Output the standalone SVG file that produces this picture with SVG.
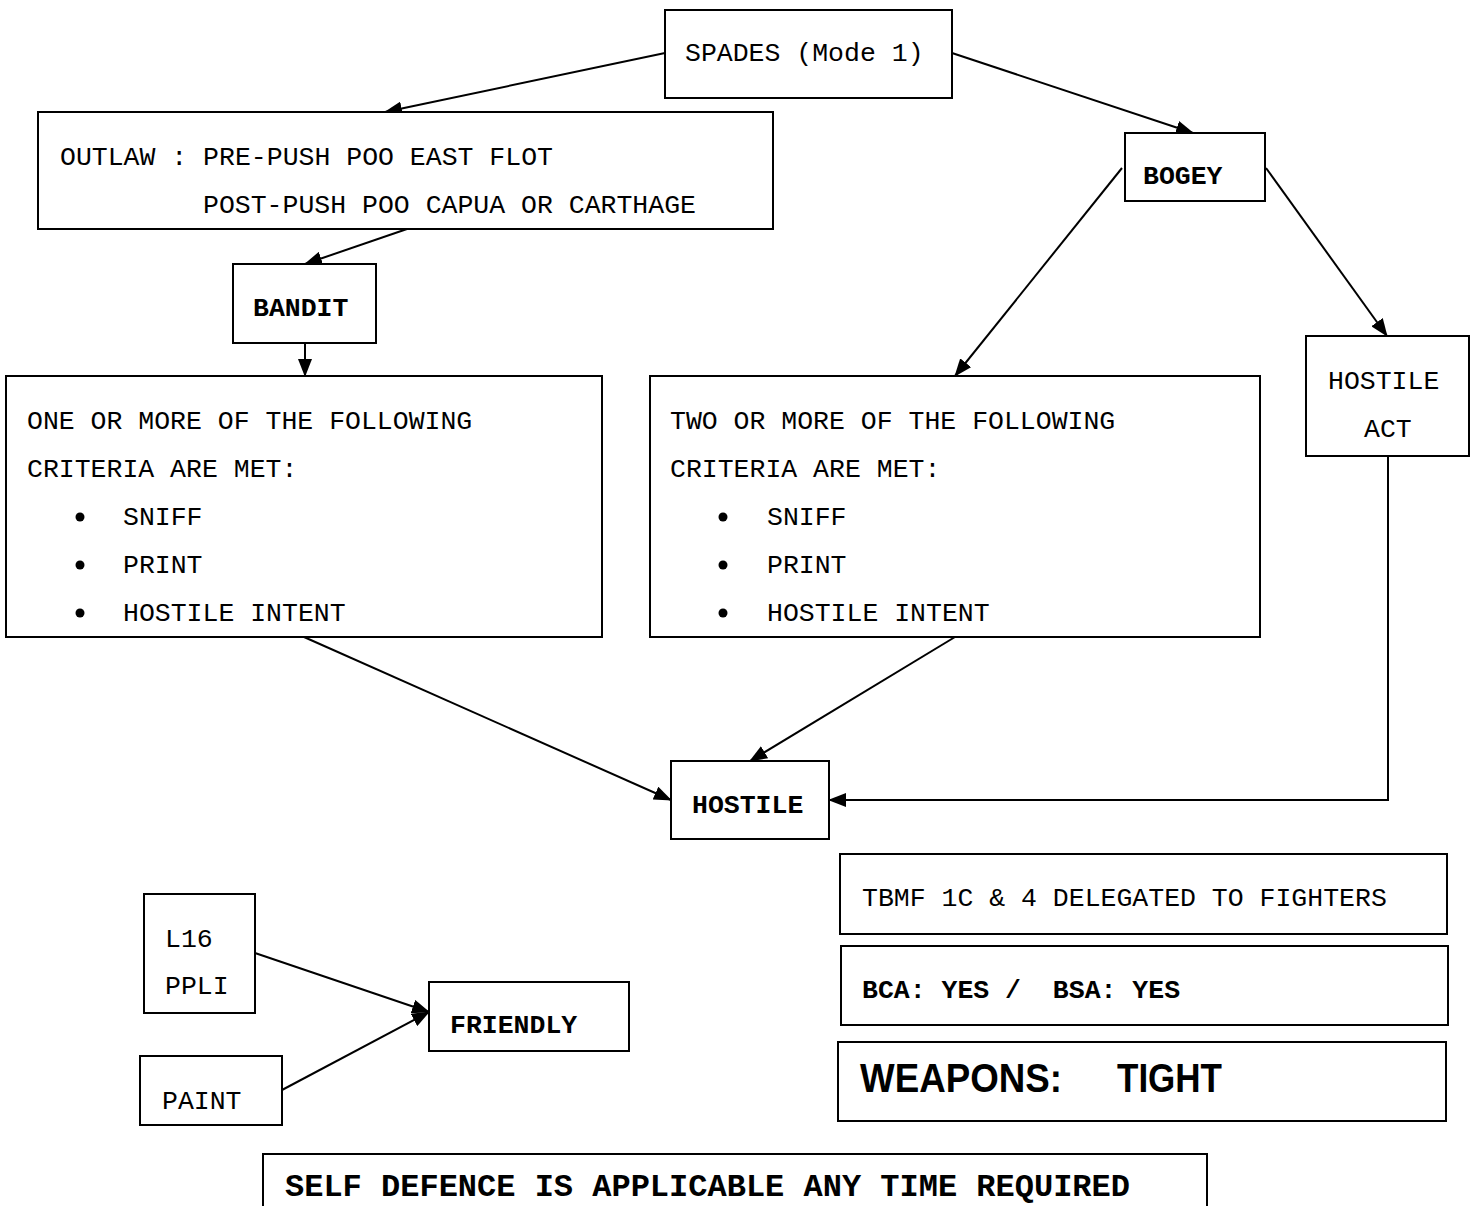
<svg xmlns="http://www.w3.org/2000/svg" width="1477" height="1206" viewBox="0 0 1477 1206">
<style>
.box{fill:#fff;stroke:#000;stroke-width:2}
.t{font-family:"Liberation Mono","Courier New",monospace;font-size:26.5px;fill:#000}
.b{font-weight:bold}
.big{font-family:"Liberation Mono","Courier New",monospace;font-size:32px;font-weight:bold}
.w{font-family:"Liberation Sans",Arial,sans-serif;font-size:41px;font-weight:bold}
.c{fill:none;stroke:#000;stroke-width:2}
</style>
<defs>
<marker id="ah" viewBox="0 0 18 14" refX="17" refY="7" markerWidth="18" markerHeight="14" markerUnits="userSpaceOnUse" orient="auto">
<path d="M0,0 L18,7 L0,14 z" fill="#000"/>
</marker>
</defs>
<rect width="1477" height="1206" fill="#fff"/>
<g id="connectors">
<line class="c" x1="665" y1="53" x2="385" y2="112" marker-end="url(#ah)"/>
<line class="c" x1="952" y1="53" x2="1193" y2="133" marker-end="url(#ah)"/>
<line class="c" x1="407" y1="229" x2="305" y2="264" marker-end="url(#ah)"/>
<line class="c" x1="305" y1="343" x2="305" y2="376" marker-end="url(#ah)"/>
<line class="c" x1="1122" y1="168" x2="955" y2="376" marker-end="url(#ah)"/>
<line class="c" x1="1266" y1="168" x2="1387" y2="336" marker-end="url(#ah)"/>
<line class="c" x1="304" y1="637" x2="671" y2="800" marker-end="url(#ah)"/>
<line class="c" x1="955" y1="637" x2="750" y2="761" marker-end="url(#ah)"/>
<polyline class="c" points="1388,456 1388,800 829,800" marker-end="url(#ah)"/>
<line class="c" x1="255" y1="953" x2="429" y2="1012" marker-end="url(#ah)"/>
<line class="c" x1="282" y1="1090" x2="429" y2="1012" marker-end="url(#ah)"/>
</g>
<g id="spades"><rect class="box" x="665" y="10" width="287" height="88"/><text class="t" x="685" y="61">SPADES (Mode 1)</text></g>
<g id="outlaw"><rect class="box" x="38" y="112" width="735" height="117"/><text class="t" x="60" y="165">OUTLAW : PRE-PUSH POO EAST FLOT</text><text class="t" x="203" y="213">POST-PUSH POO CAPUA OR CARTHAGE</text></g>
<g id="bandit"><rect class="box" x="233" y="264" width="143" height="79"/><text class="t b" x="253" y="316">BANDIT</text></g>
<g id="bogey"><rect class="box" x="1125" y="133" width="140" height="68"/><text class="t b" x="1143" y="184">BOGEY</text></g>
<g id="criteria-one"><rect class="box" x="6" y="376" width="596" height="261"/>
<text class="t" x="27" y="429">ONE OR MORE OF THE FOLLOWING</text>
<text class="t" x="27" y="477">CRITERIA ARE MET:</text>
<circle cx="80" cy="517" r="4.5"/><text class="t" x="123" y="525">SNIFF</text>
<circle cx="80" cy="565" r="4.5"/><text class="t" x="123" y="573">PRINT</text>
<circle cx="80" cy="613" r="4.5"/><text class="t" x="123" y="621">HOSTILE INTENT</text>
</g>
<g id="criteria-two"><rect class="box" x="650" y="376" width="610" height="261"/>
<text class="t" x="670" y="429">TWO OR MORE OF THE FOLLOWING</text>
<text class="t" x="670" y="477">CRITERIA ARE MET:</text>
<circle cx="723" cy="517" r="4.5"/><text class="t" x="767" y="525">SNIFF</text>
<circle cx="723" cy="565" r="4.5"/><text class="t" x="767" y="573">PRINT</text>
<circle cx="723" cy="613" r="4.5"/><text class="t" x="767" y="621">HOSTILE INTENT</text>
</g>
<g id="hostile-act"><rect class="box" x="1306" y="336" width="163" height="120"/><text class="t" x="1328" y="389">HOSTILE</text><text class="t" x="1364" y="437">ACT</text></g>
<g id="hostile"><rect class="box" x="671" y="761" width="158" height="78"/><text class="t b" x="692" y="813">HOSTILE</text></g>
<g id="l16"><rect class="box" x="144" y="894" width="111" height="119"/><text class="t" x="165" y="947">L16</text><text class="t" x="165" y="994">PPLI</text></g>
<g id="paint"><rect class="box" x="140" y="1056" width="142" height="69"/><text class="t" x="162" y="1109">PAINT</text></g>
<g id="friendly"><rect class="box" x="429" y="982" width="200" height="69"/><text class="t b" x="450" y="1033">FRIENDLY</text></g>
<g id="tbmf"><rect class="box" x="840" y="854" width="607" height="80"/><text class="t" x="862" y="906">TBMF 1C &amp; 4 DELEGATED TO FIGHTERS</text></g>
<g id="bca"><rect class="box" x="841" y="946" width="607" height="79"/><text class="t b" x="862" y="998" xml:space="preserve">BCA: YES /  BSA: YES</text></g>
<g id="weapons"><rect class="box" x="838" y="1042" width="608" height="79"/><text class="w" x="860" y="1092" textLength="202" lengthAdjust="spacingAndGlyphs">WEAPONS:</text><text class="w" x="1117" y="1092" textLength="105" lengthAdjust="spacingAndGlyphs">TIGHT</text></g>
<g id="selfdefence"><rect class="box" x="263" y="1154" width="944" height="80"/><text class="big" x="285" y="1196">SELF DEFENCE IS APPLICABLE ANY TIME REQUIRED</text></g>
</svg>
